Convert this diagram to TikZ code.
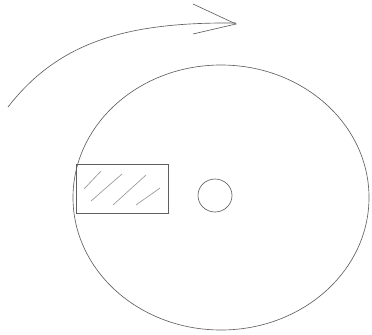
\documentclass[tikz,border=0pt]{standalone}
\usepackage{tikz}
\usetikzlibrary{calc}

\definecolor{pencil}{RGB}{95,95,95}
\definecolor{hatchgray}{RGB}{150,150,150}

\begin{document}
\begin{tikzpicture}[x=0.03cm, y=-0.03cm, line width=0.55pt, draw=pencil]
  \useasboundingbox (0,0) rectangle (372,334);

  % Rotation arrow
  \draw[pencil] (8,107) .. controls (60,40) and (130,22) .. (236,23);
  \draw[pencil] (193,4) -- (236,24) -- (193,34);

  % Disc and spindle hole
  \draw[pencil] (221,197.5) ellipse [x radius=148, y radius=132.5];
  \draw[pencil] (215,195.5) ellipse [x radius=17, y radius=16.5];

  % Head window
  \draw[pencil] (76,164) rectangle (168,213);
  \draw[hatchgray] (84,189) -- (101,171);
  \draw[hatchgray] (91,201) -- (122,174);
  \draw[hatchgray] (113,205) -- (146,175);
  \draw[hatchgray] (136,205) -- (160,188);
\end{tikzpicture}
\end{document}
